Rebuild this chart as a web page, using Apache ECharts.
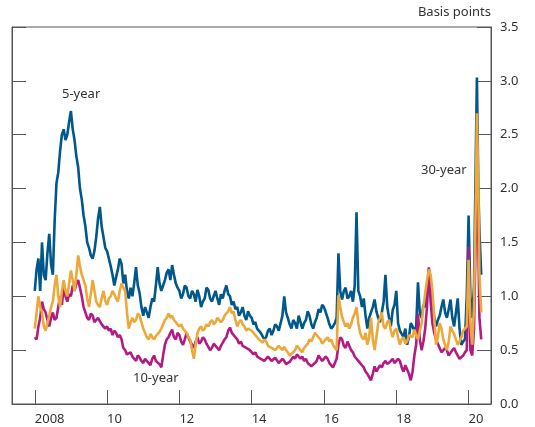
<!DOCTYPE html>
<html>
<head>
<meta charset="utf-8">
<script src="https://cdn.jsdelivr.net/npm/echarts@6/dist/echarts.min.js"></script>
<style>
  html, body { margin: 0; padding: 0; background: #fff; }
  #chart { width: 535px; height: 427px; }
</style>
</head>
<body>
<div id="chart"></div>
<script>
// dates in fractional years, one row per year
const dates = [
  2008.00, 2008.05, 2008.10, 2008.15, 2008.20, 2008.25, 2008.30, 2008.35, 2008.40, 2008.45, 2008.50, 2008.55, 2008.60, 2008.65, 2008.70, 2008.75, 2008.80, 2008.85, 2008.90, 2008.95,
  2009.00, 2009.05, 2009.10, 2009.15, 2009.20, 2009.25, 2009.30, 2009.35, 2009.40, 2009.45, 2009.50, 2009.55, 2009.60, 2009.65, 2009.70, 2009.75, 2009.80, 2009.85, 2009.90, 2009.95,
  2010.00, 2010.05, 2010.10, 2010.15, 2010.20, 2010.25, 2010.30, 2010.35, 2010.40, 2010.45, 2010.50, 2010.55, 2010.60, 2010.65, 2010.70, 2010.75, 2010.80, 2010.85, 2010.90, 2010.95,
  2011.00, 2011.05, 2011.10, 2011.15, 2011.20, 2011.25, 2011.30, 2011.35, 2011.40, 2011.45, 2011.50, 2011.55, 2011.60, 2011.65, 2011.70, 2011.75, 2011.80, 2011.85, 2011.90, 2011.95,
  2012.00, 2012.05, 2012.10, 2012.15, 2012.20, 2012.25, 2012.30, 2012.35, 2012.40, 2012.45, 2012.50, 2012.55, 2012.60, 2012.65, 2012.70, 2012.75, 2012.80, 2012.85, 2012.90, 2012.95,
  2013.00, 2013.05, 2013.10, 2013.15, 2013.20, 2013.25, 2013.30, 2013.35, 2013.40, 2013.45, 2013.50, 2013.55, 2013.60, 2013.65, 2013.70, 2013.75, 2013.80, 2013.85, 2013.90, 2013.95,
  2014.00, 2014.05, 2014.10, 2014.15, 2014.20, 2014.25, 2014.30, 2014.35, 2014.40, 2014.45, 2014.50, 2014.55, 2014.60, 2014.65, 2014.70, 2014.75, 2014.80, 2014.85, 2014.90, 2014.95,
  2015.00, 2015.05, 2015.10, 2015.15, 2015.20, 2015.25, 2015.30, 2015.35, 2015.40, 2015.45, 2015.50, 2015.55, 2015.60, 2015.65, 2015.70, 2015.75, 2015.80, 2015.85, 2015.90, 2015.95,
  2016.00, 2016.05, 2016.10, 2016.15, 2016.20, 2016.25, 2016.30, 2016.35, 2016.40, 2016.45, 2016.50, 2016.55, 2016.60, 2016.65, 2016.70, 2016.75, 2016.80, 2016.85, 2016.90, 2016.95,
  2017.00, 2017.05, 2017.10, 2017.15, 2017.20, 2017.25, 2017.30, 2017.35, 2017.40, 2017.45, 2017.50, 2017.55, 2017.60, 2017.65, 2017.70, 2017.75, 2017.80, 2017.85, 2017.90, 2017.95,
  2018.00, 2018.05, 2018.10, 2018.15, 2018.20, 2018.25, 2018.30, 2018.35, 2018.40, 2018.45, 2018.50, 2018.55, 2018.60, 2018.65, 2018.70, 2018.75, 2018.80, 2018.85, 2018.90, 2018.95,
  2019.00, 2019.05, 2019.10, 2019.15, 2019.20, 2019.25, 2019.30, 2019.35, 2019.40, 2019.45, 2019.50, 2019.55, 2019.60, 2019.65, 2019.70, 2019.75, 2019.80, 2019.85, 2019.90, 2019.95,
  2020.00, 2020.05, 2020.10, 2020.15, 2020.20, 2020.23, 2020.27, 2020.30, 2020.35
]

const fiveYear = [
  1.05, 1.25, 1.35, 1.05, 1.5, 1.2, 1.15, 1.4, 1.58, 1.3, 1.2, 1.7, 2.05, 2.15, 2.35, 2.5, 2.55, 2.45, 2.5, 2.62,
  2.72, 2.55, 2.45, 2.3, 2.2, 2.0, 1.9, 1.75, 1.65, 1.5, 1.45, 1.38, 1.35, 1.42, 1.55, 1.72, 1.83, 1.65, 1.55, 1.45,
  1.42, 1.35, 1.28, 1.2, 1.1, 1.18, 1.25, 1.35, 1.3, 1.12, 1.2, 1.05, 0.98, 1.08, 1.0, 1.12, 1.27, 1.1, 1.03, 0.9,
  0.82, 0.9, 0.85, 0.8, 0.9, 0.98, 0.95, 1.1, 1.27, 1.12, 1.05, 1.1, 1.15, 1.22, 1.25, 1.15, 1.29, 1.2, 1.12, 1.08,
  1.05, 0.98, 1.02, 1.1, 1.08, 1.0, 0.98, 1.05, 1.02, 0.95, 1.06, 1.0, 0.9, 0.95, 0.98, 1.08, 1.06, 0.98, 0.95, 1.0,
  1.05, 0.98, 0.92, 1.02, 0.98, 1.05, 1.1, 1.02, 1.0, 0.92, 0.95, 0.88, 0.9, 0.82, 0.85, 0.9, 0.82, 0.78, 0.86, 0.82,
  0.8, 0.74, 0.76, 0.7, 0.7, 0.66, 0.65, 0.6, 0.62, 0.68, 0.7, 0.64, 0.68, 0.74, 0.72, 0.68, 0.75, 0.82, 1.0, 0.85,
  0.8, 0.74, 0.7, 0.78, 0.75, 0.7, 0.82, 0.76, 0.7, 0.75, 0.78, 0.86, 0.82, 0.74, 0.7, 0.76, 0.8, 0.88, 0.85, 0.92,
  0.9, 0.85, 0.8, 0.74, 0.7, 0.72, 0.75, 0.8, 1.4, 1.05, 0.97, 1.05, 1.08, 0.98, 1.0, 1.05, 0.95, 1.1, 1.78, 1.05,
  1.0, 0.9, 0.98, 0.82, 0.7, 0.8, 0.85, 0.9, 0.97, 0.86, 0.8, 0.76, 0.85, 0.95, 1.2, 0.9, 0.8, 0.72, 0.87, 0.92,
  1.05, 0.75, 0.68, 0.65, 0.62, 0.7, 0.55, 0.62, 0.75, 0.72, 0.68, 0.72, 1.13, 0.85, 0.8, 0.92, 0.9, 1.05, 1.25, 1.1,
  0.95, 0.8, 0.72, 0.78, 0.82, 0.9, 0.97, 0.85, 0.8, 0.88, 0.97, 0.8, 0.72, 0.85, 0.98, 0.7, 0.55, 0.58, 0.6, 1.0,
  1.75, 1.0, 0.8, 1.1, 2.3, 3.03, 2.0, 1.6, 1.2
]

const tenYear = [
  0.62, 0.6, 0.72, 0.8, 0.95, 0.88, 0.85, 0.78, 0.72, 0.8, 0.85, 0.78, 0.8, 0.9, 1.0, 0.92, 1.08, 1.0, 0.95, 1.02,
  1.0, 1.1, 1.05, 1.12, 1.15, 1.08, 1.0, 0.9, 0.85, 0.8, 0.78, 0.84, 0.82, 0.76, 0.75, 0.8, 0.8, 0.74, 0.74, 0.7,
  0.72, 0.68, 0.7, 0.64, 0.68, 0.66, 0.62, 0.64, 0.6, 0.52, 0.5, 0.46, 0.45, 0.48, 0.44, 0.42, 0.4, 0.45, 0.43, 0.4,
  0.38, 0.42, 0.42, 0.38, 0.36, 0.42, 0.45, 0.4, 0.4, 0.37, 0.34, 0.45, 0.55, 0.6, 0.62, 0.66, 0.69, 0.62, 0.6, 0.66,
  0.64, 0.58, 0.55, 0.6, 0.66, 0.62, 0.58, 0.55, 0.52, 0.58, 0.62, 0.56, 0.58, 0.62, 0.6, 0.56, 0.55, 0.5, 0.52, 0.56,
  0.56, 0.52, 0.5, 0.54, 0.55, 0.6, 0.62, 0.68, 0.71, 0.66, 0.66, 0.62, 0.6, 0.56, 0.58, 0.54, 0.55, 0.52, 0.53, 0.5,
  0.5, 0.46, 0.48, 0.44, 0.45, 0.42, 0.42, 0.4, 0.4, 0.44, 0.43, 0.4, 0.4, 0.43, 0.42, 0.38, 0.38, 0.42, 0.4, 0.37,
  0.36, 0.39, 0.4, 0.44, 0.42, 0.46, 0.47, 0.42, 0.44, 0.4, 0.42, 0.38, 0.38, 0.35, 0.34, 0.38, 0.4, 0.45, 0.44, 0.4,
  0.4, 0.44, 0.42, 0.38, 0.38, 0.34, 0.34, 0.42, 0.55, 0.62, 0.6, 0.54, 0.52, 0.58, 0.57, 0.5, 0.48, 0.44, 0.42, 0.4,
  0.38, 0.36, 0.34, 0.3, 0.28, 0.25, 0.22, 0.28, 0.35, 0.3, 0.3, 0.36, 0.34, 0.38, 0.4, 0.37, 0.36, 0.4, 0.42, 0.38,
  0.38, 0.42, 0.4, 0.34, 0.3, 0.36, 0.36, 0.28, 0.22, 0.3, 0.45, 0.55, 0.84, 0.6, 0.5, 0.58, 0.7, 0.9, 1.27, 0.95,
  0.75, 0.66, 0.6, 0.56, 0.52, 0.48, 0.47, 0.52, 0.5, 0.45, 0.46, 0.5, 0.52, 0.48, 0.45, 0.42, 0.41, 0.45, 0.48, 0.5,
  1.46, 0.5, 0.45, 0.7, 1.6, 2.4, 1.5, 0.8, 0.6
]

const thirtyYear = [
  0.7, 0.85, 1.0, 0.9, 0.85, 0.72, 0.68, 0.75, 0.82, 0.9, 0.95, 1.1, 1.2, 1.0, 0.9, 1.05, 1.15, 1.05, 1.0, 1.12,
  1.24, 1.15, 1.05, 1.2, 1.38, 1.28, 1.2, 1.15, 1.1, 0.98, 0.9, 1.02, 1.15, 1.05, 0.95, 0.92, 0.9, 0.98, 1.05, 0.96,
  0.92, 0.98, 1.0, 1.05, 1.02, 0.98, 0.95, 1.05, 1.12, 1.08, 1.05, 0.85, 0.7, 0.76, 0.8, 0.76, 0.78, 0.84, 0.82, 0.76,
  0.7, 0.66, 0.62, 0.6, 0.65, 0.62, 0.6, 0.63, 0.64, 0.67, 0.7, 0.74, 0.78, 0.8, 0.84, 0.8, 0.82, 0.78, 0.78, 0.74,
  0.72, 0.74, 0.7, 0.68, 0.66, 0.62, 0.6, 0.5, 0.42, 0.55, 0.66, 0.7, 0.72, 0.68, 0.7, 0.74, 0.72, 0.76, 0.78, 0.74,
  0.76, 0.8, 0.8, 0.76, 0.78, 0.82, 0.82, 0.86, 0.9, 0.84, 0.86, 0.78, 0.72, 0.76, 0.78, 0.74, 0.72, 0.68, 0.7, 0.7,
  0.68, 0.66, 0.65, 0.62, 0.6, 0.6, 0.57, 0.6, 0.58, 0.54, 0.55, 0.52, 0.52, 0.5, 0.5, 0.54, 0.52, 0.5, 0.53, 0.5,
  0.48, 0.45, 0.44, 0.48, 0.5, 0.54, 0.55, 0.5, 0.48, 0.52, 0.52, 0.56, 0.6, 0.58, 0.62, 0.66, 0.66, 0.62, 0.6, 0.56,
  0.58, 0.6, 0.62, 0.58, 0.6, 0.55, 0.52, 0.5, 1.01, 0.9, 0.81, 0.76, 0.72, 0.75, 0.7, 0.74, 0.8, 0.84, 0.9, 0.75,
  0.66, 0.62, 0.6, 0.66, 0.55, 0.62, 0.8, 0.6, 0.5, 0.62, 0.75, 0.8, 0.85, 0.72, 0.7, 0.76, 0.78, 0.68, 0.62, 0.68,
  0.7, 0.62, 0.55, 0.6, 0.62, 0.56, 0.58, 0.64, 0.65, 0.62, 0.69, 0.64, 0.6, 0.68, 0.75, 0.9, 1.03, 1.15, 1.25, 1.2,
  1.05, 0.8, 0.55, 0.62, 0.75, 0.7, 0.6, 0.55, 0.5, 0.58, 0.72, 0.68, 0.65, 0.6, 0.55, 0.58, 0.62, 0.68, 0.7, 0.72,
  1.34, 0.75, 0.55, 0.9, 1.9, 2.7, 2.0, 1.2, 0.85
]

const xTicks = [2008, 2010, 2012, 2014, 2016, 2018, 2020]

const chart = echarts.init(document.getElementById('chart'))

const pairs = arr => dates.map((d, i) => [d, arr[i]])
const txt = '#333'
const axisCol = '#555'
const font = 'Noto Sans'

const option = {
  animation: false,
  grid: {
    left: 12, right: 44, top: 27, bottom: 23,
    show: true, borderColor: axisCol, borderWidth: 1
  },
  xAxis: {
    type: 'value',
    min: 2007.37,
    max: 2020.62,
    splitLine: { show: false },
    axisLine: { lineStyle: { color: axisCol } },
    axisTick: { inside: true, length: 14, customValues: xTicks, lineStyle: { color: axisCol } },
    axisLabel: {
      customValues: xTicks,
      align: 'left',
      margin: 9,
      color: txt,
      fontFamily: font,
      fontSize: 13,
      formatter: v => v === 2008 ? '2008' : String(v).slice(2)
    }
  },
  yAxis: [
    {
      type: 'value', position: 'left', min: 0, max: 3.5, interval: 0.5,
      splitLine: { show: false },
      axisLine: { show: true, lineStyle: { color: axisCol } },
      axisTick: { show: true, inside: true, length: 14, lineStyle: { color: axisCol } },
      axisLabel: { show: false }
    },
    {
      type: 'value', position: 'right', min: 0, max: 3.5, interval: 0.5,
      splitLine: { show: false },
      axisLine: { show: true, lineStyle: { color: axisCol } },
      axisTick: { show: true, inside: true, length: 14, lineStyle: { color: axisCol } },
      axisLabel: {
        color: txt, fontFamily: font, fontSize: 13, margin: 9,
        formatter: v => v.toFixed(1)
      }
    }
  ],
  series: [
    {
      name: '5-year', type: 'line', data: pairs(fiveYear), symbol: 'none',
      lineStyle: { color: '#00578b', width: 2.6 }
    },
    {
      name: '10-year', type: 'line', data: pairs(tenYear), symbol: 'none',
      lineStyle: { color: '#b31b84', width: 2.6 }
    },
    {
      name: '30-year', type: 'line', data: pairs(thirtyYear), symbol: 'none',
      lineStyle: { color: '#eca93a', width: 2.6 }
    }
  ],
  graphic: [
    { type: 'text', right: 44, top: 6, style: { text: 'Basis points', fill: txt, font: '13px "Noto Sans"' } },
    { type: 'text', left: 62, top: 88, style: { text: '5-year', fill: txt, font: '13px "Noto Sans"' } },
    { type: 'text', left: 421, top: 164, style: { text: '30-year', fill: txt, font: '13px "Noto Sans"' } },
    { type: 'text', left: 133, top: 372, style: { text: '10-year', fill: txt, font: '13px "Noto Sans"' } }
  ]
}

chart.setOption(option)
window.addEventListener('resize', () => {
  chart.resize()
})
</script>
</body>
</html>
